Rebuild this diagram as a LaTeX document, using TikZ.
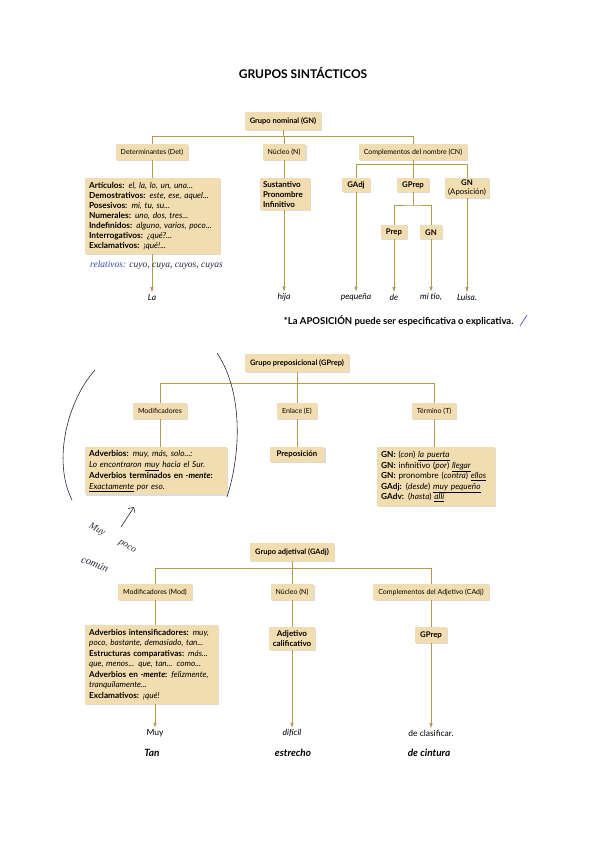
\documentclass[tikz,border=0pt]{standalone}
\usepackage{fontspec}
\setmainfont{Lato}
\newfontfamily\handfont{Liberation Serif}
\usepackage{xcolor}
\usetikzlibrary{arrows.meta, positioning, shadows, calc}

\definecolor{boxfill}{RGB}{242,221,176}
\definecolor{linkcol}{RGB}{180,154,80}
\definecolor{inkblue}{RGB}{45,70,175}
\definecolor{inkdark}{RGB}{40,40,60}
\newcommand{\undl}[1]{\underline{#1}}

\begin{document}
\begin{tikzpicture}[
  x=1pt, y=-1pt,
  box/.style={fill=boxfill, drop shadow={shadow xshift=1.2pt, shadow yshift=-1.2pt, opacity=0.3, fill=black!45}, font=\fontsize{8.3}{10}\selectfont},
  head/.style={box, minimum height=16pt, inner xsep=5pt, inner ysep=2pt, font=\fontsize{7}{10}\selectfont},
  sub/.style={box, minimum height=14pt, inner xsep=5pt, inner ysep=2pt, font=\fontsize{7.8}{9}\selectfont},
  root/.style={head, minimum height=18pt, font=\fontsize{7.5}{10}\selectfont\bfseries},
  content/.style={box, align=left, inner xsep=4pt, inner ysep=4pt},
  link/.style={draw=linkcol, line width=0.8pt},
  tip/.style={link, -{Triangle[length=5pt, width=3pt]}},
  leaf/.style={font=\fontsize{8.5}{10}\selectfont\itshape, inner sep=1.5pt},
  example/.style={font=\fontsize{10}{12}\selectfont\bfseries\itshape, inner sep=1.5pt},
  hand/.style={font=\handfont\itshape\fontsize{9.5}{10}\selectfont, text=inkdark, inner sep=0pt},
]
\fill[white] (0,0) rectangle (600,848);
\useasboundingbox (0,0) rectangle (600,848);

% Titulo
\node[font=\fontsize{12}{14}\selectfont\bfseries] (title) at (303,73) {GRUPOS SINTÁCTICOS};

% Grupo nominal
\coordinate (gnbar) at (283,136);
\coordinate (cnbar) at (413,164);
\coordinate (gpbar) at (413,205);
\node[root] (gn) at (283,121) {Grupo nominal (GN)};
\node[head] (det) at (152,152) {Determinantes (Det)};
\node[head] (nuc) at (284,152) {Núcleo (N)};
\node[head] (cn) at (413,152) {Complementos del nombre (CN)};
\node[content, anchor=north, text width=127pt] (detc) at (152.5,178) {%
  \textbf{Artículos:} \textit{el, la, lo, un, una...}\\
  \textbf{Demostrativos:} \textit{este, ese, aquel...}\\
  \textbf{Posesivos:} \textit{mi, tu, su...}\\
  \textbf{Numerales:} \textit{uno, dos, tres...}\\
  \textbf{Indefinidos:} \textit{alguno, varios, poco...}\\
  \textbf{Interrogativos:} \textit{¿qué?...}\\
  \textbf{Exclamativos:} \textit{¡qué!...}};
\node[content, anchor=north, text width=44pt, inner xsep=3pt, inner ysep=3pt, font=\fontsize{8}{10}\selectfont] (nucc) at (285,178) {%
  \textbf{Sustantivo}\\\textbf{Pronombre}\\\textbf{Infinitivo}};
\node[sub, anchor=north] (gadj) at (356,178) {\textbf{GAdj}};
\node[sub, anchor=north] (gprep) at (413,178) {\textbf{GPrep}};
\node[sub, anchor=north, align=center, inner xsep=3pt] (gnap) at (467,178) {\textbf{GN}\\(Aposición)};
\node[sub, anchor=north] (prep) at (394,225) {\textbf{Prep}};
\node[sub, anchor=north] (gnt) at (431,225) {\textbf{GN}};

\node[leaf] (la) at (152,297) {La};
\node[leaf] (hija) at (284,297) {hija};
\node[leaf] (pequena) at (356,297) {pequeña};
\node[leaf] (de) at (394,297) {de};
\node[leaf] (mitio) at (431,297) {mi tío,};
\node[leaf] (luisa) at (467,297) {Luisa.};

\draw[link] (gn.south) -- (gnbar);
\draw[link] (det.north) |- (cn.north |- gnbar) -- (cn.north);
\draw[link] (nuc.north) -- (nuc.north |- gnbar);
\draw[link] (det.south) -- (det.south |- detc.north);
\draw[link] (nuc.south) -- (nuc.south |- nucc.north);
\draw[link] (cn.south) -- (cnbar);
\draw[link] (gadj.north) |- (gnap.north |- cnbar) -- (gnap.north);
\draw[link] (gprep.north) -- (gprep.north |- cnbar);
\draw[link] (gprep.south) -- (gpbar);
\draw[link] (prep.north) |- (gpbar) -| (gnt.north);
\draw[tip] (detc.south -| la.north) -- (la.north);
\draw[tip] (nucc.south -| hija.north) -- (hija.north);
\draw[tip] (gadj.south) -- (pequena.north);
\draw[tip] (prep.south) -- (de.north);
\draw[tip] (gnt.south) -- (mitio.north);
\draw[tip] (gnap.south) -- (luisa.north);

% anotaciones a mano
\node[hand, anchor=west] (relat) at (90,265) {\textcolor{inkblue}{relativos:} cuyo, cuya, cuyos, cuyas};

% Nota
\node[font=\fontsize{9.5}{11}\selectfont\bfseries, anchor=east] (nota) at (517,321) {*La APOSICIÓN puede ser especificativa o explicativa.};
\draw[inkblue, line width=0.6pt] (520,326) -- (527,315);

% Grupo preposicional
\coordinate (gpgbar) at (297,383);
\node[root] (gp) at (297,363) {Grupo preposicional (GPrep)};
\node[head] (mod) at (160,411) {Modificadores};
\node[head] (enl) at (297,411) {Enlace (E)};
\node[head] (term) at (434,411) {Término (T)};
\node[content, anchor=north west, text width=134pt, inner ysep=3pt, font=\fontsize{8.3}{11}\selectfont] (modc) at (85,447) {%
  \textbf{Adverbios:} \textit{muy, más, solo...:}\\
  \textit{Lo encontraron \undl{muy} hacia el Sur.}\\
  \textbf{Adverbios terminados en \textit{-mente}:}\\
  \textit{\undl{Exactamente} por eso.}};
\node[sub, anchor=north, minimum height=15pt, inner xsep=7pt] (prepc) at (297,447) {\textbf{Preposición}};
\node[content, anchor=north west, text width=110pt, font=\fontsize{8.3}{10.5}\selectfont] (termc) at (377,447) {%
  \textbf{GN:} (\textit{con}) \textit{\undl{la puerta}}\\
  \textbf{GN:} infinitivo (\textit{por}) \textit{\undl{llegar}}\\
  \textbf{GN:} pronombre (\textit{contra}) \textit{\undl{ellos}}\\
  \textbf{GAdj:} (\textit{desde}) \textit{\undl{muy pequeño}}\\
  \textbf{GAdv:} (\textit{hasta}) \textit{\undl{allí}}};

\draw[link] (gp.south) -- (gpgbar);
\draw[link] (mod.north) |- (term.north |- gpgbar) -- (term.north);
\draw[link] (enl.north) -- (enl.north |- gpgbar);
\draw[link] (mod.south) -- (mod.south |- modc.north);
\draw[link] (enl.south) -- (prepc.north);
\draw[link] (term.south) -- (term.south |- termc.north);

% parentesis y nota a mano
\draw[inkdark, line width=0.6pt] (95,370) .. controls (68,400) and (52,460) .. (72,500);
\draw[inkdark, line width=0.6pt] (217,353) .. controls (242,390) and (242,450) .. (227,497);
\node[hand, rotate=-30] (muyh) at (97,530) {Muy};
\node[hand, rotate=-30] (pocoh) at (127,547) {poco};
\node[hand, rotate=-22, font=\handfont\itshape\fontsize{10.5}{11}\selectfont] (comun) at (95,564) {común};
\coordinate (handtail) at (121,527);
\coordinate (handtip) at (134,507);
\draw[inkdark, line width=0.6pt, -{Straight Barb[length=4pt]}] (handtail) -- (handtip);

% Grupo adjetival
\coordinate (gabar) at (292,568);
\node[root] (ga) at (292,552) {Grupo adjetival (GAdj)};
\node[head] (amod) at (155,592) {Modificadores (Mod)};
\node[head] (anuc) at (292,592) {Núcleo (N)};
\node[head] (acad) at (431,592) {Complementos del Adjetivo (CAdj)};
\node[content, anchor=north west, text width=125pt, font=\fontsize{8.2}{10.5}\selectfont] (amodc) at (85,625) {%
  \textbf{Adverbios intensificadores:} \textit{muy,}\\
  \textit{poco, bastante, demasiado, tan...}\\
  \textbf{Estructuras comparativas:} \textit{más...}\\
  \textit{que, menos... que, tan... como...}\\
  \textbf{Adverbios en \textit{-mente}:} \textit{felizmente,}\\
  \textit{tranquilamente...}\\
  \textbf{Exclamativos:} \textit{¡qué!}};
\node[sub, anchor=north, align=center, font=\fontsize{8}{10.5}\selectfont, inner ysep=3pt, inner xsep=4pt] (anucc) at (292,627) {\textbf{Adjetivo}\\\textbf{calificativo}};
\node[sub, anchor=north, minimum height=16pt] (agp) at (431,627) {\textbf{GPrep}};

\node[leaf, font=\fontsize{8.5}{10}\selectfont] (muy) at (155,733) {Muy};
\node[leaf] (dificil) at (292,733) {difícil};
\node[leaf, font=\fontsize{8.5}{10}\selectfont] (clasif) at (431,733) {de clasificar.};
\node[example] (tan) at (152,753) {Tan};
\node[example] (estrecho) at (293,753) {estrecho};
\node[example] (cintura) at (429,753) {de cintura};

\draw[link] (ga.south) -- (gabar);
\draw[link] (amod.north) |- (acad.north |- gabar) -- (acad.north);
\draw[link] (anuc.north) -- (anuc.north |- gabar);
\draw[link] (amod.south) -- (amod.south |- amodc.north);
\draw[link] (anuc.south) -- (anucc.north);
\draw[link] (acad.south) -- (agp.north);
\draw[tip] (amodc.south -| muy.north) -- (muy.north);
\draw[tip] (anucc.south) -- (dificil.north);
\draw[tip] (agp.south) -- (clasif.north);

\end{tikzpicture}
\end{document}
